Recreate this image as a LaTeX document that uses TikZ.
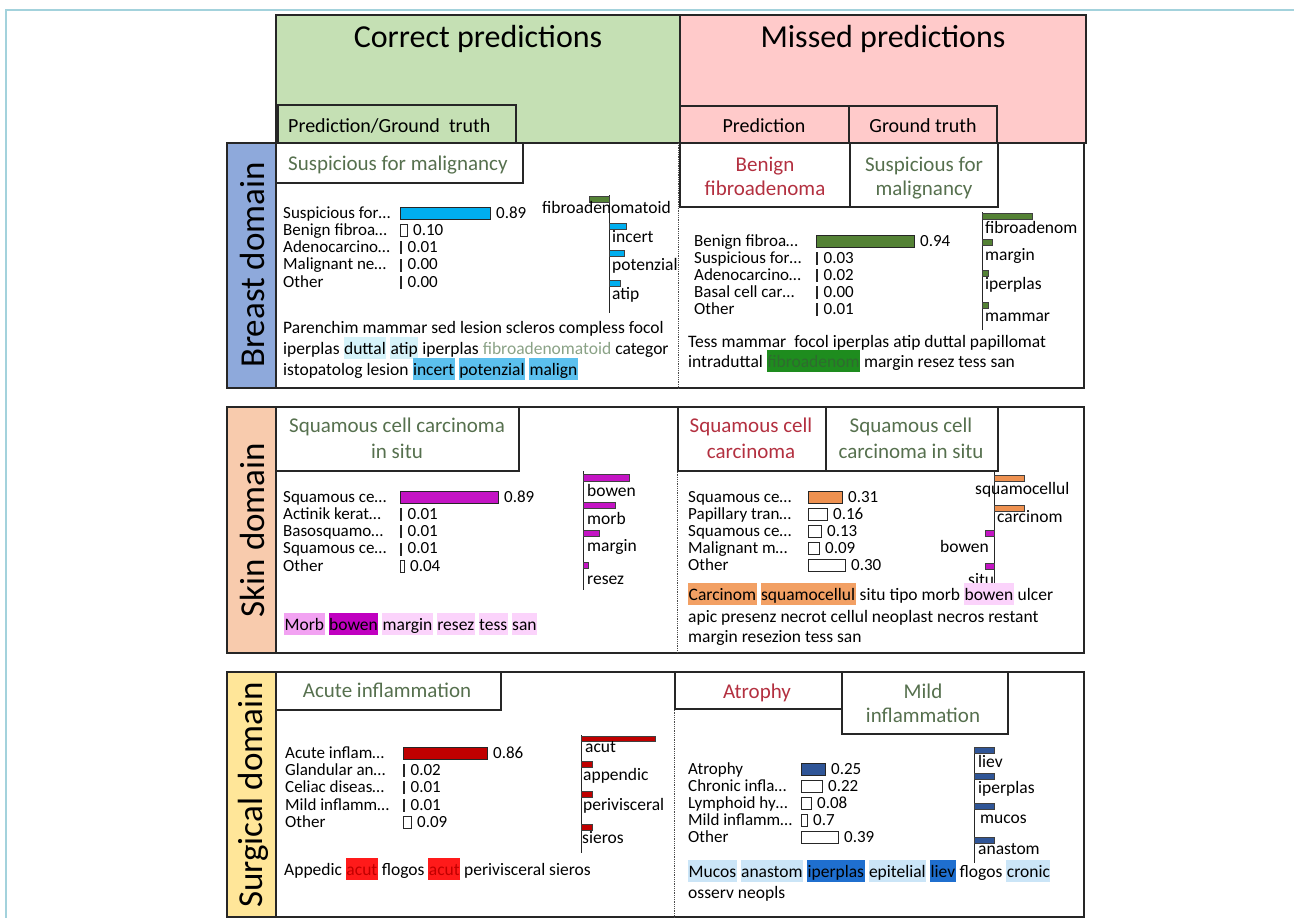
\documentclass[tikz,border=0pt]{standalone}
\usepackage{fontspec}
\setmainfont{Carlito}
\usepackage{xcolor}
\usepackage{tikz}
\usetikzlibrary{positioning}

\definecolor{framecol}{HTML}{A3D2DC}
\definecolor{okgreen}{HTML}{C5E0B4}
\definecolor{misspink}{HTML}{FFCACA}
\definecolor{domblue}{HTML}{8EA9DB}
\definecolor{dompeach}{HTML}{F8CBAD}
\definecolor{domyellow}{HTML}{FFE699}
\definecolor{gtgreen}{HTML}{56704E}
\definecolor{predred}{HTML}{B33040}
\definecolor{fibtxt}{HTML}{8AA286}
\definecolor{brblue}{HTML}{00AEEF}
\definecolor{brgreen}{HTML}{548235}
\definecolor{skmag}{HTML}{C414C4}
\definecolor{skorange}{HTML}{EE9150}
\definecolor{sgred}{HTML}{C00000}
\definecolor{sgblue}{HTML}{2F5597}
\definecolor{hlcyan}{HTML}{D5F3FA}
\definecolor{hlblue}{HTML}{5BC0EE}
\definecolor{hlgreen}{HTML}{1E8C1E}
\definecolor{hlgrtxt}{HTML}{2F6B2F}
\definecolor{hlpinka}{HTML}{F2A2F2}
\definecolor{hlmag}{HTML}{C000C0}
\definecolor{hlpinkb}{HTML}{FBD3FB}
\definecolor{hlorange}{HTML}{F2A064}
\definecolor{hlred}{HTML}{FF1A1A}
\definecolor{hllblue}{HTML}{CBE5F7}
\definecolor{hldblue}{HTML}{1F6FCF}

\newcommand{\hdrfont}{\fontsize{32}{36}\selectfont}
\newcommand{\subfont}{\fontsize{20}{24}\selectfont}
\newcommand{\ttlfont}{\fontsize{21}{24}\selectfont}
\newcommand{\rowfont}{\fontsize{17}{19}\selectfont}
\newcommand{\txtfont}{\fontsize{17.5}{21}\selectfont}
\newcommand{\domfont}{\fontsize{35}{40}\selectfont}
% highlighted word
\newcommand{\hlw}[2]{{\setlength{\fboxsep}{0pt}\colorbox{#1}{\rule[-5pt]{0pt}{22pt}\hspace{0.5pt}#2\hspace{0.5pt}}}}
% rows of a probability chart: name, label x, bar x, first row y, row step, rows
\newcommand{\probrows}[6]{%
  \foreach \lab/\w/\val/\col [count=\i from 0] in {#6} {
    \pgfmathsetmacro{\cy}{#4+#5*\i}
    \node[rowlbl] (#1-lab\i) at (#2,\cy+5) {\lab};
    \draw[barbox, fill=\col] (#3,\cy-6) rectangle ++(\w,12);
    \node[rowlbl] (#1-val\i) at (#3+\w+6,\cy+5) {\val};
  }}

\begin{document}
\begin{tikzpicture}[x=1pt, y=-1pt,
    panel/.style={draw=black!85, line width=1.2pt},
    hdrtxt/.style={font=\hdrfont, anchor=base, inner sep=0pt},
    subtxt/.style={font=\subfont, anchor=base, inner sep=0pt},
    ttl/.style={font=\ttlfont, anchor=base, inner sep=0pt},
    rowlbl/.style={font=\rowfont, anchor=base west, inner sep=0pt},
    txtline/.style={font=\txtfont, anchor=base west, inner sep=0pt},
    barbox/.style={draw=black!85, line width=0.8pt},
    minibar/.style={draw=black!75, line width=0.5pt},
    vaxis/.style={draw=black!85, line width=1pt},
    divline/.style={draw=black!70, densely dotted, line width=0.8pt},
    domtxt/.style={font=\domfont, rotate=90, inner sep=0pt}
  ]
    \useasboundingbox (0,0) rectangle (1294,918);
    \draw[framecol, line width=1.5pt] (6,918) -- (6,10) -- (1294,10);

    % headers
    \draw[panel, fill=okgreen] (276,15) rectangle (680,143);
    \draw[panel, fill=misspink] (680,15) rectangle (1086,143);
    \node[hdrtxt] (correct) at (478,47) {Correct predictions};
    \node[hdrtxt] (missed) at (883,47) {Missed predictions};
    \draw[panel, fill=okgreen] (278,105) rectangle (516,143);
    \node[subtxt, anchor=base west] (predgt) at (288,132) {Prediction/Ground\ \ truth};
    \draw[panel, fill=misspink] (680,106) rectangle (849,143);
    \draw[panel, fill=misspink] (849,106) rectangle (997,143);
    \node[subtxt] (pred) at (764,132) {Prediction};
    \node[subtxt] (gtruth) at (923,132) {Ground\ truth};

    % domain labels
    \draw[panel, fill=domblue] (227,143) rectangle (276,388);
    \node[domtxt] (breastdom) at (252,265) {Breast domain};
    \draw[panel, fill=dompeach] (227,407) rectangle (276,653);
    \node[domtxt] (skindom) at (252,530) {Skin domain};
    \draw[panel, fill=domyellow] (227,672) rectangle (276,917);
    \node[domtxt] (surgdom) at (253,795) {Surgical domain};

    % ---------- breast ----------
    \draw[panel] (276,143) rectangle (1084,388);
    \draw[divline] (678,143) -- (678,388);
    \draw[panel] (276,143) rectangle (523,183);
    \node[ttl, anchor=base west, text=gtgreen] (br-ok) at (288,170) {Suspicious for malignancy};
    \draw[panel] (680,143) rectangle (850,207);
    \node[ttl, text=predred] (br-p1) at (765,171) {Benign};
    \node[ttl, text=predred] (br-p2) at (765,195) {fibroadenoma};
    \draw[panel] (850,143) rectangle (998,207);
    \node[ttl, text=gtgreen] (br-g1) at (924,171) {Suspicious for};
    \node[ttl, text=gtgreen] (br-g2) at (924,195) {malignancy};

    \probrows{brl}{283}{400}{213}{17.3}{Suspicious for…/90/0.89/brblue, Benign fibroa…/7/0.10/white, Adenocarcino…/1.5/0.01/white, Malignant ne…/1.5/0.00/white, Other/1.5/0.00/white}
    \draw[vaxis] (609,195) -- (609,313);
    \draw[minibar, fill=brgreen] (589,196) rectangle (609,202);
    \node[txtline] (brl-m1) at (542,213) {fibroadenomatoid};
    \draw[minibar, fill=brblue] (609,223) rectangle (626,229);
    \node[txtline] (brl-m2) at (612,242) {incert};
    \draw[minibar, fill=brblue] (609,250) rectangle (624,256);
    \node[txtline] (brl-m3) at (612,270) {potenzial};
    \draw[minibar, fill=brblue] (609,280) rectangle (620,286);
    \node[txtline] (brl-m4) at (612,299) {atip};
    \node[txtline] (brl-t1) at (283,333) {Parenchim mammar sed lesion scleros compless focol};
    \node[txtline] (brl-t2) at (283,354) {iperplas \hlw{hlcyan}{duttal} \hlw{hlcyan}{atip} iperplas \textcolor{fibtxt}{fibroadenomatoid} categor};
    \node[txtline] (brl-t3) at (283,375) {istopatolog lesion \hlw{hlblue}{incert} \hlw{hlblue}{potenzial} \hlw{hlblue}{malign}};

    \probrows{brr}{694}{816}{241}{17.2}{Benign fibroa…/98/0.94/brgreen, Suspicious for…/1.5/0.03/white, Adenocarcino…/1.5/0.02/white, Basal cell car…/1.5/0.00/white, Other/1.5/0.01/white}
    \draw[vaxis] (982,212) -- (982,330);
    \draw[minibar, fill=brgreen] (982,213) rectangle (1032,219);
    \node[txtline] (brr-m1) at (985,233) {fibroadenom};
    \draw[minibar, fill=brgreen] (982,239) rectangle (992,245);
    \node[txtline] (brr-m2) at (985,260) {margin};
    \draw[minibar, fill=brgreen] (982,270) rectangle (988,276);
    \node[txtline] (brr-m3) at (985,289) {iperplas};
    \draw[minibar, fill=brgreen] (982,302) rectangle (988,308);
    \node[txtline] (brr-m4) at (985,321) {mammar};
    \node[txtline] (brr-t1) at (688,347) {Tess mammar\ \ focol iperplas atip duttal papillomat};
    \node[txtline] (brr-t2) at (688,367) {intraduttal \hlw{hlgreen}{\textcolor{hlgrtxt}{fibroadenom}} margin resez tess san};

    % ---------- skin ----------
    \draw[panel] (276,407) rectangle (1084,653);
    \draw[divline] (677,407) -- (677,653);
    \draw[panel] (276,407) rectangle (519,471);
    \node[ttl, text=gtgreen] (sk-ok1) at (397,432) {Squamous cell carcinoma};
    \node[ttl, text=gtgreen] (sk-ok2) at (397,458) {in situ};
    \draw[panel] (678,407) rectangle (826,471);
    \node[ttl, text=predred] (sk-p1) at (751,432) {Squamous cell};
    \node[ttl, text=predred] (sk-p2) at (751,458) {carcinoma};
    \draw[panel] (826,407) rectangle (998,471);
    \node[ttl, text=gtgreen] (sk-g1) at (911,432) {Squamous cell};
    \node[ttl, text=gtgreen] (sk-g2) at (911,458) {carcinoma in situ};

    \probrows{skl}{283}{400}{497}{17.3}{Squamous ce…/98/0.89/skmag, Actinik kerat…/1.5/0.01/white, Basosquamo…/1.5/0.01/white, Squamous ce…/1.5/0.01/white, Other/4/0.04/white}
    \draw[vaxis] (583,471) -- (583,590);
    \draw[minibar, fill=skmag] (583,474) rectangle (629,481);
    \node[txtline] (skl-m1) at (587,496) {bowen};
    \draw[minibar, fill=skmag] (583,502) rectangle (615,508);
    \node[txtline] (skl-m2) at (587,524) {morb};
    \draw[minibar, fill=skmag] (583,530) rectangle (599,536);
    \node[txtline] (skl-m3) at (587,551) {margin};
    \draw[minibar, fill=skmag] (583,562) rectangle (588,568);
    \node[txtline] (skl-m4) at (587,584) {resez};
    \node[txtline] (skl-t1) at (284,630) {\hlw{hlpinka}{Morb} \hlw{hlmag}{bowen} \hlw{hlpinkb}{margin} \hlw{hlpinkb}{resez} \hlw{hlpinkb}{tess} \hlw{hlpinkb}{san}};

    \probrows{skr}{688}{808}{497}{17.2}{Squamous ce…/34/0.31/skorange, Papillary tran…/19/0.16/white, Squamous ce…/13/0.13/white, Malignant m…/11/0.09/white, Other/37/0.30/white}
    \draw[vaxis] (994,472) -- (994,585);
    \draw[minibar, fill=skorange] (994,475) rectangle (1024,481);
    \node[txtline] (skr-m1) at (975,494) {squamocellul};
    \draw[minibar, fill=skorange] (994,505) rectangle (1024,511);
    \node[txtline] (skr-m2) at (997,522) {carcinom};
    \draw[minibar, fill=skmag] (985,530) rectangle (994,536);
    \node[txtline, anchor=base east] (skr-m3) at (989,552) {bowen};
    \draw[minibar, fill=skmag] (985,563) rectangle (994,569);
    \node[txtline] (skr-m4) at (968,585) {situ};
    \node[txtline] (skr-t1) at (688,600) {\hlw{hlorange}{Carcinom} \hlw{hlorange}{squamocellul} situ tipo morb \hlw{hlpinkb}{bowen} ulcer};
    \node[txtline] (skr-t2) at (688,622) {apic presenz necrot cellul neoplast necros restant};
    \node[txtline] (skr-t3) at (688,642) {margin resezion tess san};

    % ---------- surgical ----------
    \draw[panel] (276,672) rectangle (1084,917);
    \draw[divline] (674,672) -- (674,917);
    \draw[panel] (276,672) rectangle (501,710);
    \node[ttl, text=gtgreen] (sg-ok) at (387,697) {Acute inflammation};
    \draw[panel] (675,672) rectangle (842,709);
    \node[ttl, text=predred] (sg-p) at (757,698) {Atrophy};
    \draw[panel] (842,672) rectangle (1008,734);
    \node[ttl, text=gtgreen] (sg-g1) at (923,698) {Mild};
    \node[ttl, text=gtgreen] (sg-g2) at (923,722) {inflammation};

    \probrows{sgl}{285}{403}{753}{17.4}{Acute inflam…/84/0.86/sgred, Glandular an…/1.5/0.02/white, Celiac diseas…/1.5/0.01/white, Mild inflamm…/1.5/0.01/white, Other/8/0.09/white}
    \draw[vaxis] (581,735) -- (581,853);
    \draw[minibar, fill=sgred] (581,736) rectangle (655,741);
    \node[txtline] (sgl-m1) at (585,752) {acut};
    \draw[minibar, fill=sgred] (581,761) rectangle (592,767);
    \node[txtline] (sgl-m2) at (583,780) {appendic};
    \draw[minibar, fill=sgred] (581,791) rectangle (592,797);
    \node[txtline] (sgl-m3) at (583,810) {perivisceral};
    \draw[minibar, fill=sgred] (581,824) rectangle (592,830);
    \node[txtline] (sgl-m4) at (582,843) {sieros};
    \node[txtline] (sgl-t1) at (284,875) {Appedic \hlw{hlred}{\textcolor{sgred}{acut}} flogos \hlw{hlred}{\textcolor{sgred}{acut}} perivisceral sieros};

    \probrows{sgr}{688}{801}{769}{17.2}{Atrophy/24/0.25/sgblue, Chronic infla…/21/0.22/white, Lymphoid hy…/10/0.08/white, Mild inflamm…/6/0.7/white, Other/37/0.39/white}
    \draw[vaxis] (974,747) -- (974,863);
    \draw[minibar, fill=sgblue] (974,747) rectangle (994,753);
    \node[txtline] (sgr-m1) at (978,767) {liev};
    \draw[minibar, fill=sgblue] (974,773) rectangle (994,779);
    \node[txtline] (sgr-m2) at (978,793) {iperplas};
    \draw[minibar, fill=sgblue] (974,803) rectangle (994,809);
    \node[txtline] (sgr-m3) at (980,823) {mucos};
    \draw[minibar, fill=sgblue] (974,837) rectangle (994,843);
    \node[txtline] (sgr-m4) at (978,854) {anastom};
    \node[txtline] (sgr-t1) at (688,877) {\hlw{hllblue}{Mucos} \hlw{hllblue}{anastom} \hlw{hldblue}{iperplas} \hlw{hllblue}{epitelial} \hlw{hldblue}{liev} flogos \hlw{hllblue}{cronic}};
    \node[txtline] (sgr-t2) at (688,898) {osserv neopls};

  \end{tikzpicture}
\end{document}
